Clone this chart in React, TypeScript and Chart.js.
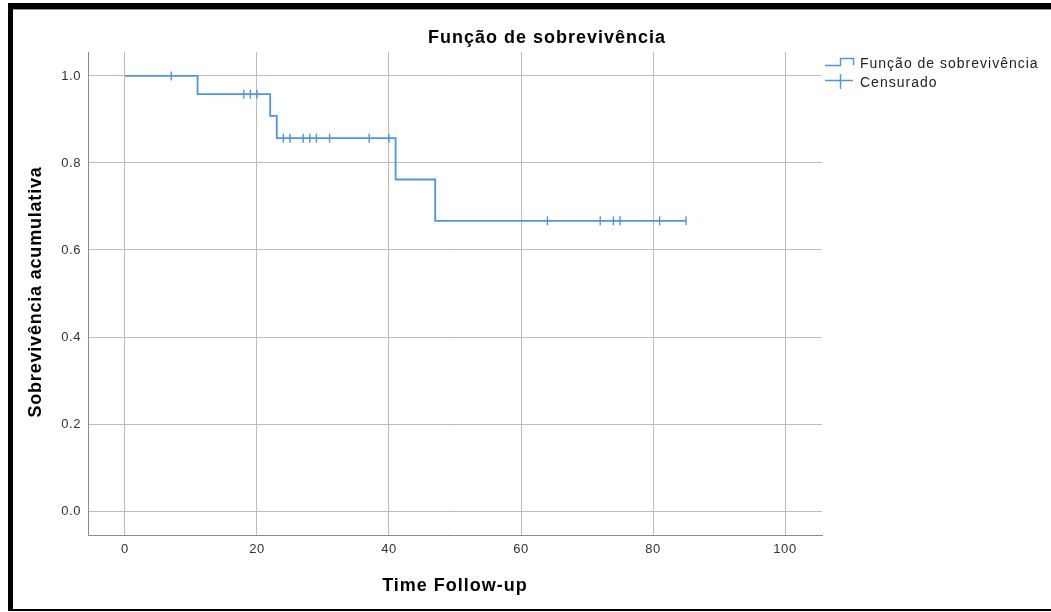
import { useEffect, useRef } from "react";
import { Chart, registerables } from "chart.js";

Chart.register(...registerables);

// Kaplan-Meier estimate: step times and survival after each step
const survivalTimes = [0, 11, 22, 23, 41, 47, 85];
const survivalValues = [1.0, 0.958, 0.908, 0.857, 0.762, 0.667, 0.667];

// Censored observations (follow-up time)
const censorTimes = [7, 18, 19, 20, 24, 25, 27, 28, 29, 31, 37, 40, 64, 72, 74, 75, 81, 85];

const xTicks = [0, 20, 40, 60, 80, 100];
const yTicks = [0, 0.2, 0.4, 0.6, 0.8, 1.0];

const chartTitle = "Função de sobrevivência";
const xAxisTitle = "Time Follow-up";
const yAxisTitle = "Sobrevivência acumulativa";
const legendLabels = ["Função de sobrevivência", "Censurado"];

const BLUE = "#4f93e3";
const FONT = "'Liberation Sans', Arial, sans-serif";

// survival level in effect at time t
function survivalAt(t: number): number {
  let v = survivalValues[0];
  for (let i = 0; i < survivalTimes.length; i++) {
    if (survivalTimes[i] <= t) v = survivalValues[i];
  }
  return v;
}

const decorPlugin = {
  id: "decor",
  beforeDraw(chart: any) {
    const ctx = chart.ctx as CanvasRenderingContext2D;
    ctx.save();
    ctx.fillStyle = "#fff";
    ctx.fillRect(0, 0, chart.width, chart.height);
    ctx.restore();
    (ctx as any).letterSpacing = "0.6px";
  },
  afterDraw(chart: any) {
    const ctx = chart.ctx as CanvasRenderingContext2D;
    const W = chart.width;
    ctx.save();

    // outer frame
    ctx.fillStyle = "#000";
    ctx.fillRect(8, 3, W - 8, 6);
    ctx.fillRect(8, 3, 5, 608);
    ctx.fillRect(8, 609, W - 8, 2);
    ctx.fillStyle = "#9a9a9a";
    ctx.fillRect(13, 9, W - 13, 1);

    // titles
    ctx.fillStyle = "#000";
    ctx.font = `bold 18px ${FONT}`;
    (ctx as any).letterSpacing = "1px";
    ctx.textAlign = "center";
    ctx.textBaseline = "alphabetic";
    ctx.fillText(chartTitle, 547, 43);
    ctx.fillText(xAxisTitle, 455, 591);

    ctx.save();
    ctx.translate(41, 292);
    ctx.rotate(-Math.PI / 2);
    (ctx as any).letterSpacing = "0.8px";
    ctx.fillText(yAxisTitle, 0, 0);
    ctx.restore();

    // legend
    ctx.strokeStyle = BLUE;
    ctx.lineWidth = 1.4;
    ctx.beginPath();
    ctx.moveTo(825, 65.5);
    ctx.lineTo(840.5, 65.5);
    ctx.lineTo(840.5, 58.5);
    ctx.lineTo(853.5, 58.5);
    ctx.lineTo(853.5, 65);
    ctx.stroke();

    ctx.beginPath();
    ctx.moveTo(825, 80.5);
    ctx.lineTo(853, 80.5);
    ctx.moveTo(840.5, 74);
    ctx.lineTo(840.5, 89);
    ctx.stroke();

    ctx.fillStyle = "#222";
    ctx.font = `14px ${FONT}`;
    (ctx as any).letterSpacing = "1px";
    ctx.textAlign = "left";
    ctx.fillText(legendLabels[0], 860, 68);
    ctx.fillText(legendLabels[1], 860, 87);

    ctx.restore();
  },
};

export default function App() {
  const canvasRef = useRef<HTMLCanvasElement | null>(null);

  useEffect(() => {
    const canvas = canvasRef.current;
    if (!canvas) return;

    const curve = survivalTimes.map((t, i) => ({ x: t, y: survivalValues[i] }));
    const censored = censorTimes.map((t) => ({ x: t, y: survivalAt(t) }));

    const chart = new Chart(canvas, {
      type: "line",
      data: {
        datasets: [
          {
            label: legendLabels[0],
            data: curve,
            stepped: true,
            borderColor: BLUE,
            borderWidth: 1.8,
            pointRadius: 0,
            fill: false,
          },
          {
            label: legendLabels[1],
            data: censored,
            showLine: false,
            pointStyle: "line",
            rotation: 90,
            pointRadius: 4.5,
            borderColor: BLUE,
            backgroundColor: BLUE,
            borderWidth: 1.4,
          },
        ],
      },
      options: {
        responsive: false,
        animation: false,
        events: [],
        layout: { padding: { left: 0, top: 52, right: 229, bottom: 0 } },
        plugins: {
          legend: { display: false },
          title: { display: false },
          tooltip: { enabled: false },
        },
        scales: {
          x: {
            type: "linear",
            min: -5.6,
            max: 105.6,
            afterFit: (scale: any) => {
              scale.height = 77;
            },
            afterBuildTicks: (scale: any) => {
              scale.ticks = xTicks.map((v) => ({ value: v }));
            },
            ticks: {
              color: "#333",
              font: { family: FONT, size: 13 },
              padding: 7,
              maxRotation: 0,
              callback: (v: any) => String(v),
            },
            grid: { color: "#bcbcbc", lineWidth: 1, drawTicks: false },
            border: { color: "#8a8a8a", width: 1 },
          },
          y: {
            type: "linear",
            min: -0.055,
            max: 1.055,
            afterFit: (scale: any) => {
              scale.width = 88;
            },
            afterBuildTicks: (scale: any) => {
              scale.ticks = yTicks.map((v) => ({ value: v }));
            },
            ticks: {
              color: "#333",
              font: { family: FONT, size: 13 },
              padding: 7,
              callback: (v: any) => Number(v).toFixed(1),
            },
            grid: { color: "#bcbcbc", lineWidth: 1, drawTicks: false },
            border: { color: "#8a8a8a", width: 1 },
          },
        },
      },
      plugins: [decorPlugin],
    });

    return () => chart.destroy();
  }, []);

  return (
    <div style={{ position: "fixed", left: 0, top: 0, width: 1051, height: 612, background: "#fff" }}>
      <canvas ref={canvasRef} width={1051} height={612} style={{ display: "block" }} />
    </div>
  );
}
